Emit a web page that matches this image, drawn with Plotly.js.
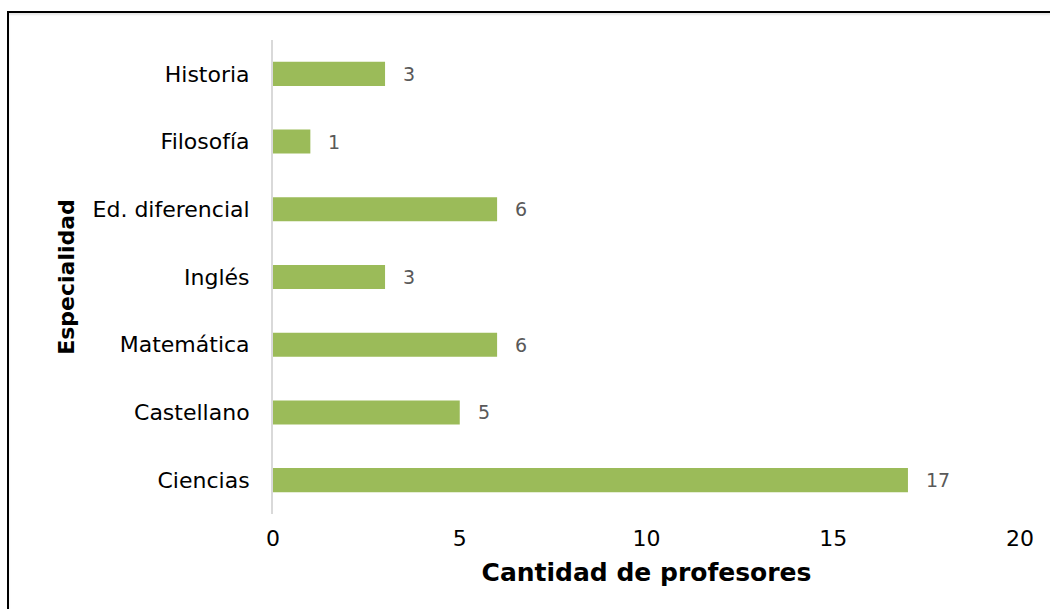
<!DOCTYPE html>
<html><head><meta charset="utf-8">
<script src="https://cdn.plot.ly/plotly-3.0.1.min.js"></script>
<style>
html,body{margin:0;padding:0;background:#fff;overflow:hidden;}
#frame{position:absolute;left:7px;top:11px;width:1100px;height:700px;border:2px solid #000;box-shadow:inset 0 2px 2px #e6e6e6;pointer-events:none;z-index:5;}
#chart{position:absolute;left:0;top:0;width:1050px;height:609px;}
</style></head>
<body>
<div id="chart"></div>
<div id="frame"></div>
<script>
const categories = ["Ciencias","Castellano","Matemática","Inglés","Ed. diferencial","Filosofía","Historia"];
const values = [17,5,6,3,6,1,3];
const xTicks = [0,5,10,15,20];

const trace = {
  type:'bar', orientation:'h',
  y: categories, x: values,
  marker:{color:'#9BBB59'},
  hoverinfo:'none'
};

const labels = categories.map((c,i) => ({
  x: values[i], y: c, xref:'x', yref:'y',
  text: String(values[i]), showarrow:false,
  xanchor:'left', yanchor:'middle', xshift:16, yshift:0,
  font:{family:'DejaVu Sans, sans-serif', size:19, color:'#595959'}
}));

const layout = {
  width:1050, height:609,
  margin:{l:273, r:30, t:40, b:95},
  paper_bgcolor:'#fff', plot_bgcolor:'#fff',
  showlegend:false,
  bargap:0.645,
  font:{family:'DejaVu Sans, sans-serif', color:'#000'},
  annotations: labels,
  xaxis:{
    range:[0,20], tickvals:xTicks, ticktext:xTicks.map(String),
    showgrid:false, zeroline:false, showline:false,
    ticks:'outside', ticklen:5, tickcolor:'rgba(0,0,0,0)',
    tickfont:{size:22, color:'#000'},
    title:{text:'<b>Cantidad de profesores</b>', font:{size:25, color:'#000'}, standoff:13}
  },
  yaxis:{
    type:'category', categoryorder:'array', categoryarray:categories,
    showgrid:false, zeroline:false,
    showline:true, linecolor:'#D9D9D9', linewidth:2,
    ticks:'outside', ticklen:17, tickcolor:'rgba(0,0,0,0)',
    tickfont:{size:22, color:'#000'},
    title:{text:'<b>Especialidad</b>', font:{size:22, color:'#000'}, standoff:12}
  }
};

Plotly.newPlot('chart',[trace],layout,{staticPlot:true});
</script>
</body></html>
